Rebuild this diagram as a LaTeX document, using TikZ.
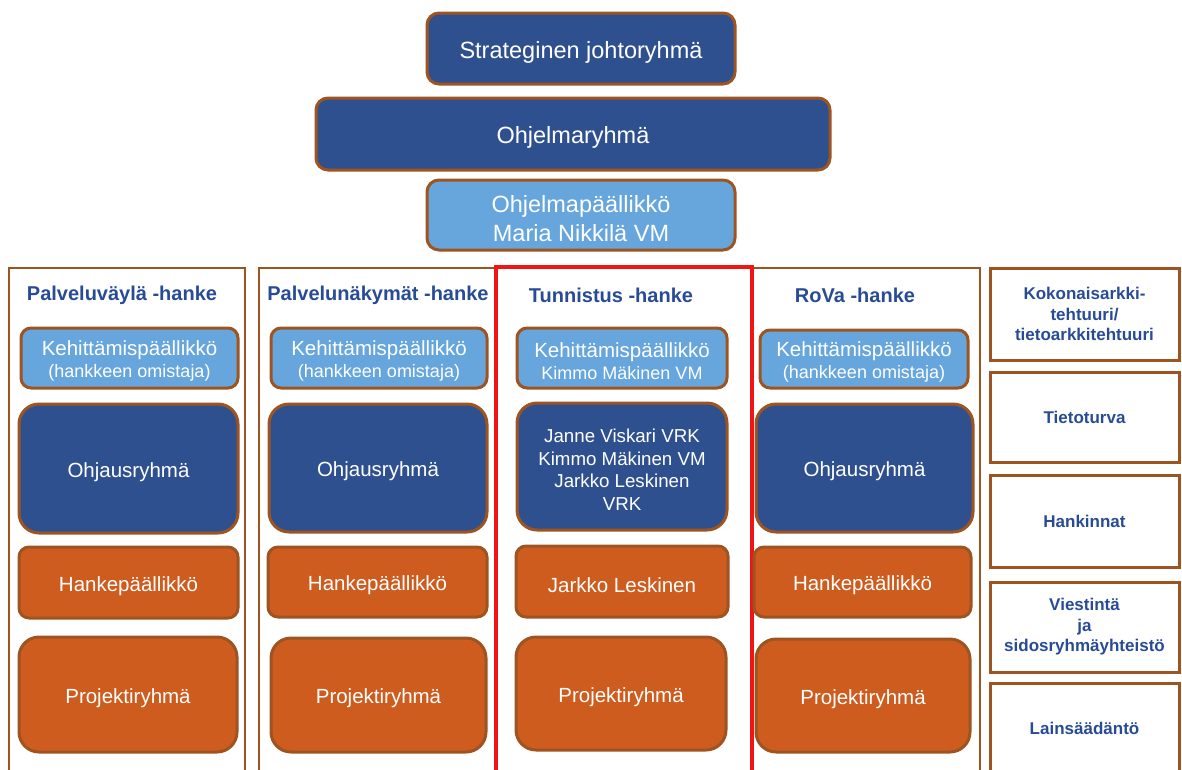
\documentclass[tikz,border=0pt]{standalone}
\usepackage{fontspec}
\setmainfont{Liberation Sans}
\usepackage{xcolor}
\definecolor{darkblue}{RGB}{47,80,143}
\definecolor{lightblue}{RGB}{102,166,220}
\definecolor{orangefill}{RGB}{205,92,30}
\definecolor{brownline}{RGB}{158,84,33}
\definecolor{headblue}{RGB}{40,75,150}
\definecolor{redline}{RGB}{240,20,20}
\newcommand{\nosto}{\rule{0pt}{1.05em}}

\begin{document}
\begin{tikzpicture}[x=1pt, y=-1pt,
    box/.style = {shape=rectangle, rounded corners=10pt, draw=brownline,
      line width=3pt, inner sep=0pt, align=center, text=white,
      execute at begin node={\nosto}},
    darkbox/.style = {box, fill=darkblue, font=\fontsize{20.5}{22.5}\selectfont},
    lightbox/.style = {box, fill=lightblue, font=\fontsize{20.5}{22}\selectfont},
    orangebox/.style = {box, fill=orangefill, font=\fontsize{20.5}{23}\selectfont},
    bigbox/.style = {rounded corners=20pt},
    topbox/.style = {font=\fontsize{23.5}{29}\selectfont, rounded corners=12pt},
    frame/.style = {shape=rectangle, draw=brownline, line width=2.5pt, inner sep=0pt},
    redframe/.style = {frame, draw=redline, line width=3.5pt},
    sidebox/.style = {frame, line width=3pt, align=center, text=headblue,
      font=\fontsize{17}{20.5}\selectfont\bfseries},
    hankehead/.style = {text=headblue, font=\fontsize{20}{24}\selectfont\bfseries}]
  \clip (0,0) rectangle (1182,769);

  % ohjelman johto
  \node[darkbox, topbox, minimum width=308pt, minimum height=71pt] (strat) at (581,48.5) {Strateginen johtoryhmä};
  \node[darkbox, topbox, minimum width=514pt, minimum height=72pt] (ohjryhma) at (573,134) {Ohjelmaryhmä};
  \node[lightbox, topbox, minimum width=308pt, minimum height=70pt] (ohjpaal) at (581,215) {\nosto Ohjelmapäällikkö\\Maria Nikkilä VM};

  % hankkeiden kehykset
  \node[frame, minimum width=236pt, minimum height=512pt] (kehys1) at (127,524) {};
  \node[frame, minimum width=236pt, minimum height=512pt] (kehys2) at (377,524) {};
  \node[frame, minimum width=228pt, minimum height=512pt] (kehys4) at (866,524) {};
  \node[redframe, minimum width=256pt, minimum height=514pt] (kehys3) at (624,524) {};

  % Palveluväylä
  \node[hankehead] (otsikko1) at (122,295) {Palveluväylä -hanke};
  \node[lightbox, minimum width=217pt, minimum height=60pt] (keh1) at (129.5,358)
    {\nosto Kehittämispäällikkö\\{\fontsize{18}{22}\selectfont(hankkeen omistaja)}};
  \node[darkbox, bigbox, minimum width=219pt, minimum height=129pt] (ohj1) at (128.5,468.5) {Ohjausryhmä};
  \node[orangebox, minimum width=219pt, minimum height=71pt] (hank1) at (128.5,582.5) {Hankepäällikkö};
  \node[orangebox, bigbox, minimum width=218pt, minimum height=115pt] (proj1) at (128,694.5) {Projektiryhmä};

  % Palvelunäkymät
  \node[hankehead] (otsikko2) at (378,295) {Palvelunäkymät -hanke};
  \node[lightbox, minimum width=216pt, minimum height=60pt] (keh2) at (379,358)
    {\nosto Kehittämispäällikkö\\{\fontsize{18}{22}\selectfont(hankkeen omistaja)}};
  \node[darkbox, bigbox, minimum width=218pt, minimum height=128pt] (ohj2) at (378,468) {Ohjausryhmä};
  \node[orangebox, minimum width=219pt, minimum height=70pt] (hank2) at (377.5,582) {Hankepäällikkö};
  \node[orangebox, bigbox, minimum width=215pt, minimum height=114pt] (proj2) at (378.5,695) {Projektiryhmä};

  % Tunnistus
  \node[hankehead] (otsikko3) at (611,295) {Tunnistus -hanke};
  \node[lightbox, minimum width=210pt, minimum height=60pt] (keh3) at (622,358)
    {\nosto Kehittämispäällikkö\\{\fontsize{18}{22}\selectfont Kimmo Mäkinen VM}};
  \node[darkbox, bigbox, minimum width=210pt, minimum height=127pt,
    font=\fontsize{18.7}{22.6}\selectfont] (ohj3) at (622,466.5)
    {\nosto Janne Viskari VRK\\Kimmo Mäkinen VM\\Jarkko Leskinen\\VRK};
  \node[orangebox, minimum width=212pt, minimum height=71pt] (hank3) at (622,581.5) {Jarkko Leskinen};
  \node[orangebox, bigbox, minimum width=210pt, minimum height=113pt] (proj3) at (621,693.5) {Projektiryhmä};

  % RoVa
  \node[hankehead] (otsikko4) at (855,295) {RoVa -hanke};
  \node[lightbox, minimum width=208pt, minimum height=58pt] (keh4) at (864,359)
    {\nosto Kehittämispäällikkö\\{\fontsize{18}{22}\selectfont(hankkeen omistaja)}};
  \node[darkbox, bigbox, minimum width=217pt, minimum height=128pt] (ohj4) at (864.5,468) {Ohjausryhmä};
  \node[orangebox, minimum width=217pt, minimum height=70pt] (hank4) at (862.5,582) {Hankepäällikkö};
  \node[orangebox, bigbox, minimum width=214pt, minimum height=113pt] (proj4) at (863,695.5) {Projektiryhmä};

  % poikkileikkaavat teemat
  \node[sidebox, minimum width=189pt, minimum height=92pt] (arkki) at (1084.5,314) {Kokonaisarkki-\\tehtuuri/\\tietoarkkitehtuuri};
  \node[sidebox, minimum width=189pt, minimum height=90pt] (turva) at (1084.5,417) {Tietoturva};
  \node[sidebox, minimum width=189pt, minimum height=92pt] (hankinnat) at (1084.5,521) {Hankinnat};
  \node[sidebox, minimum width=189pt, minimum height=90pt] (viestinta) at (1084.5,627) {Viestintä\\ja\\sidosryhmäyhteistö};
  \node[sidebox, minimum width=189pt, minimum height=90pt] (laki) at (1084.5,728) {Lainsäädäntö};
\end{tikzpicture}
\end{document}
